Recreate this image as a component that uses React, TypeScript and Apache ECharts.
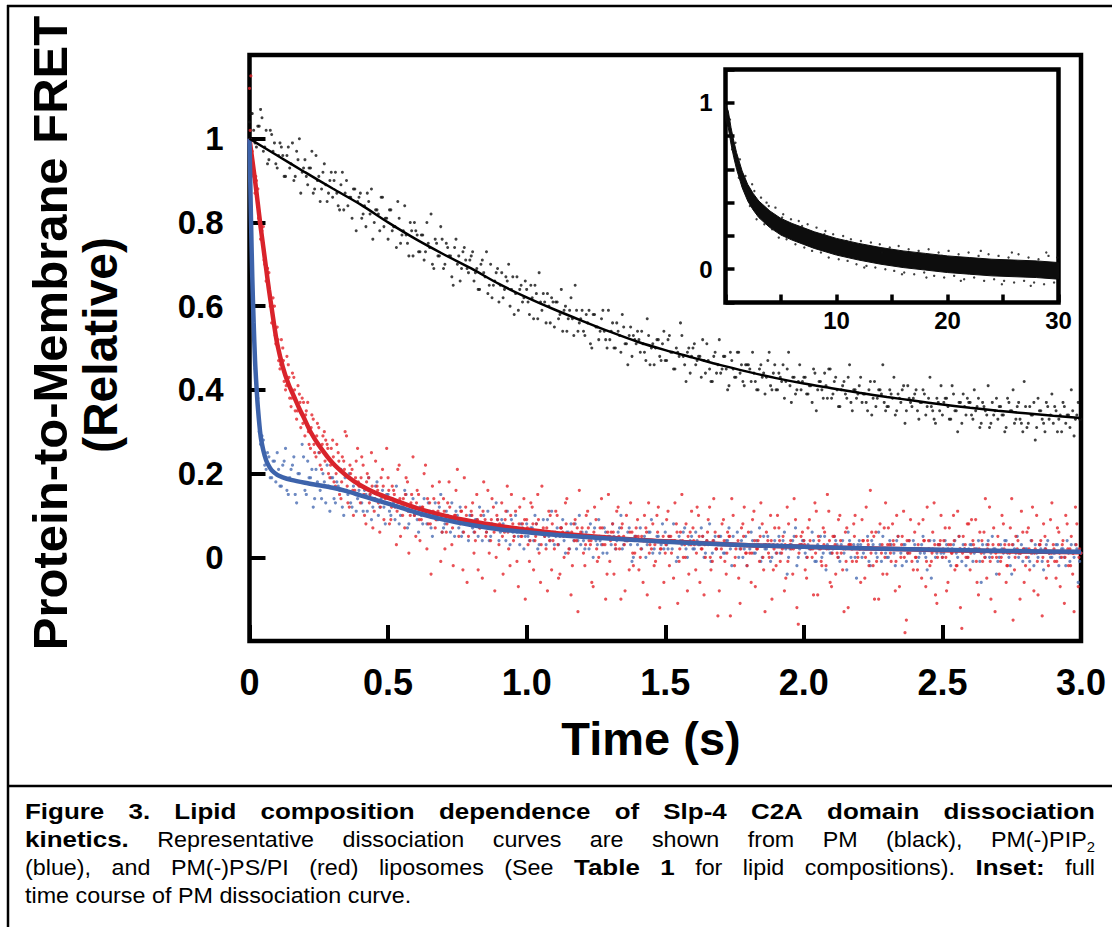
import React, { useEffect, useRef } from 'react';
import * as echarts from 'echarts';

const FONT = '"Liberation Sans", Arial, Helvetica, sans-serif';

// Main traces: stopped-flow samples every DT seconds (0 … 3 s)
const DT = 0.01;

// PM (black) – relative FRET, samples at t = i*DT
const BLACK_Y = [
  1.04, 1.06, 0.99, 1.03, 1.07, 0.97, 1.02, 0.95, 1.01, 0.99,
  0.93, 0.99, 0.96, 0.91, 0.98, 0.94, 0.90, 0.97, 1.00, 0.92,
  0.95, 0.89, 0.93, 0.87, 0.96, 0.91, 0.88, 0.94, 0.85, 0.90,
  0.86, 0.92, 0.84, 0.89, 0.83, 0.90, 0.86, 0.81, 0.88, 0.85,
  0.87, 0.82, 0.79, 0.85, 0.88, 0.80, 0.83, 0.78, 0.86, 0.81,
  0.76, 0.83, 0.79, 0.74, 0.81, 0.77, 0.84, 0.75, 0.80, 0.72,
  0.78, 0.73, 0.77, 0.71, 0.80, 0.74, 0.70, 0.76, 0.72, 0.79,
  0.69, 0.75, 0.72, 0.67, 0.74, 0.70, 0.66, 0.73, 0.71, 0.68,
  0.72, 0.66, 0.69, 0.64, 0.71, 0.67, 0.63, 0.70, 0.65, 0.68,
  0.61, 0.68, 0.64, 0.66, 0.60, 0.67, 0.63, 0.59, 0.65, 0.62,
  0.64, 0.58, 0.62, 0.65, 0.57, 0.61, 0.63, 0.56, 0.60, 0.62,
  0.55, 0.61, 0.58, 0.54, 0.60, 0.57, 0.62, 0.53, 0.59, 0.56,
  0.59, 0.53, 0.56, 0.51, 0.58, 0.55, 0.52, 0.57, 0.54, 0.50,
  0.52, 0.56, 0.50, 0.54, 0.49, 0.55, 0.51, 0.53, 0.48, 0.52,
  0.54, 0.49, 0.51, 0.47, 0.53, 0.50, 0.46, 0.52, 0.48, 0.51,
  0.47, 0.52, 0.49, 0.45, 0.50, 0.48, 0.53, 0.46, 0.49, 0.44,
  0.50, 0.46, 0.48, 0.43, 0.47, 0.51, 0.45, 0.42, 0.49, 0.46,
  0.44, 0.48, 0.45, 0.41, 0.47, 0.43, 0.49, 0.44, 0.42, 0.46,
  0.46, 0.42, 0.44, 0.40, 0.45, 0.43, 0.39, 0.47, 0.41, 0.44,
  0.40, 0.44, 0.42, 0.38, 0.45, 0.41, 0.43, 0.39, 0.42, 0.40,
  0.43, 0.39, 0.41, 0.37, 0.44, 0.40, 0.42, 0.38, 0.41, 0.45,
  0.38, 0.42, 0.40, 0.36, 0.41, 0.39, 0.43, 0.37, 0.40, 0.38,
  0.41, 0.37, 0.39, 0.35, 0.42, 0.38, 0.36, 0.40, 0.39, 0.37,
  0.36, 0.40, 0.38, 0.34, 0.39, 0.37, 0.41, 0.35, 0.38, 0.36,
  0.39, 0.35, 0.37, 0.40, 0.34, 0.38, 0.36, 0.33, 0.38, 0.35,
  0.34, 0.38, 0.36, 0.33, 0.39, 0.35, 0.37, 0.32, 0.36, 0.38,
  0.37, 0.33, 0.35, 0.38, 0.32, 0.36, 0.34, 0.31, 0.37, 0.35,
  0.33, 0.36, 0.34, 0.31, 0.37, 0.35, 0.32, 0.36, 0.33, 0.30,
  0.36, 0.32, 0.34, 0.37, 0.31, 0.35, 0.33, 0.30, 0.36, 0.34,
  0.32, 0.35, 0.33, 0.30, 0.36, 0.34, 0.31, 0.35, 0.33, 0.37,
  0.33,
];

// PM (black), samples at t = i*DT + DT/2
const BLACK_Y_B = [
  1.06, 1.02, 0.98, 1.03, 1.05, 0.98, 0.94, 1.02, 0.97, 0.94,
  0.96, 0.98, 0.91, 0.96, 0.93, 0.99, 0.91, 0.95, 0.87, 0.93,
  0.91, 0.93, 0.97, 0.88, 0.90, 0.85, 0.92, 0.89, 0.87, 0.92,
  0.90, 0.87, 0.83, 0.92, 0.87, 0.84, 0.86, 0.88, 0.78, 0.86,
  0.81, 0.84, 0.87, 0.82, 0.76, 0.83, 0.82, 0.86, 0.79, 0.81,
  0.83, 0.78, 0.79, 0.85, 0.75, 0.78, 0.77, 0.72, 0.78, 0.80,
  0.77, 0.73, 0.77, 0.73, 0.75, 0.82, 0.69, 0.75, 0.72, 0.76,
  0.70, 0.74, 0.72, 0.65, 0.76, 0.72, 0.69, 0.74, 0.69, 0.71,
  0.73, 0.68, 0.64, 0.70, 0.68, 0.73, 0.65, 0.62, 0.66, 0.69,
  0.65, 0.62, 0.67, 0.70, 0.64, 0.58, 0.67, 0.64, 0.61, 0.66,
  0.61, 0.65, 0.57, 0.63, 0.68, 0.59, 0.61, 0.63, 0.56, 0.61,
  0.61, 0.57, 0.64, 0.59, 0.54, 0.59, 0.57, 0.65, 0.54, 0.57,
  0.54, 0.58, 0.59, 0.50, 0.58, 0.55, 0.54, 0.59, 0.52, 0.59,
  0.54, 0.50, 0.56, 0.53, 0.58, 0.51, 0.46, 0.55, 0.53, 0.51,
  0.52, 0.54, 0.49, 0.57, 0.46, 0.51, 0.50, 0.52, 0.47, 0.54,
  0.47, 0.53, 0.49, 0.45, 0.49, 0.56, 0.48, 0.42, 0.50, 0.48,
  0.51, 0.47, 0.48, 0.52, 0.44, 0.47, 0.42, 0.48, 0.44, 0.52,
  0.45, 0.48, 0.40, 0.49, 0.45, 0.43, 0.49, 0.46, 0.41, 0.46,
  0.45, 0.49, 0.42, 0.40, 0.46, 0.44, 0.43, 0.49, 0.40, 0.46,
  0.40, 0.43, 0.46, 0.42, 0.49, 0.37, 0.43, 0.40, 0.46, 0.42,
  0.43, 0.39, 0.41, 0.45, 0.35, 0.42, 0.40, 0.44, 0.38, 0.45,
  0.39, 0.43, 0.36, 0.40, 0.42, 0.38, 0.46, 0.35, 0.40, 0.39,
  0.43, 0.39, 0.37, 0.40, 0.34, 0.42, 0.38, 0.40, 0.46, 0.35,
  0.36, 0.39, 0.43, 0.35, 0.38, 0.40, 0.32, 0.41, 0.37, 0.38,
  0.40, 0.33, 0.37, 0.39, 0.36, 0.43, 0.35, 0.32, 0.37, 0.41,
  0.37, 0.38, 0.33, 0.41, 0.35, 0.30, 0.37, 0.39, 0.34, 0.37,
  0.34, 0.40, 0.36, 0.31, 0.37, 0.35, 0.41, 0.32, 0.34, 0.38,
  0.36, 0.34, 0.30, 0.38, 0.35, 0.40, 0.33, 0.37, 0.32, 0.42,
  0.31, 0.36, 0.34, 0.28, 0.38, 0.35, 0.32, 0.37, 0.33, 0.39,
  0.36, 0.30, 0.34, 0.37, 0.32, 0.34, 0.40, 0.29, 0.34, 0.33,
];

// PM(-)PIP2 (blue), samples at t = i*DT
const BLUE_Y = [
  0.98, 0.70, 0.45, 0.38, 0.27, 0.28, 0.21, 0.24, 0.19, 0.23,
  0.25, 0.17, 0.22, 0.26, 0.15, 0.21, 0.24, 0.13, 0.20, 0.27,
  0.16, 0.23, 0.19, 0.12, 0.21, 0.25, 0.14, 0.18, 0.22, 0.11,
  0.19, 0.13, 0.17, 0.21, 0.10, 0.16, 0.20, 0.12, 0.18, 0.14,
  0.17, 0.11, 0.15, 0.19, 0.09, 0.14, 0.18, 0.12, 0.16, 0.08,
  0.15, 0.10, 0.13, 0.17, 0.08, 0.12, 0.16, 0.07, 0.11, 0.14,
  0.12, 0.06, 0.10, 0.14, 0.08, 0.11, 0.05, 0.13, 0.09, 0.15,
  0.07, 0.11, 0.09, 0.13, 0.05, 0.10, 0.12, 0.06, 0.08, 0.04,
  0.10, 0.06, 0.09, 0.12, 0.04, 0.08, 0.11, 0.05, 0.07, 0.13,
  0.04, 0.09, 0.07, 0.11, 0.03, 0.06, 0.10, 0.05, 0.08, 0.02,
  0.08, 0.04, 0.07, 0.10, 0.02, 0.06, 0.09, 0.03, 0.05, 0.11,
  0.03, 0.07, 0.05, 0.09, 0.01, 0.06, 0.08, 0.04, 0.02, 0.10,
  0.06, 0.02, 0.05, 0.08, 0.00, 0.04, 0.09, 0.03, 0.07, 0.01,
  0.05, 0.08, 0.02, 0.06, 0.10, 0.03, 0.04, 0.07, -0.01, 0.05,
  0.03, 0.07, 0.04, 0.00, 0.06, 0.09, 0.02, 0.05, 0.01, 0.08,
  0.06, 0.02, 0.04, 0.08, -0.01, 0.05, 0.03, 0.07, 0.00, 0.04,
  0.02, 0.06, 0.03, 0.07, 0.00, 0.04, 0.08, 0.01, 0.05, 0.03,
  0.05, 0.01, 0.04, 0.07, -0.02, 0.03, 0.06, 0.02, 0.00, 0.05,
  0.03, 0.06, 0.01, 0.04, 0.07, 0.00, 0.02, 0.05, -0.01, 0.03,
  0.01, 0.05, 0.03, 0.06, -0.04, 0.02, 0.04, 0.07, 0.00, 0.03,
  0.04, 0.00, 0.02, 0.06, -0.01, 0.03, 0.05, 0.01, -0.03, 0.02,
  0.01, 0.05, 0.03, -0.01, 0.04, 0.02, 0.06, 0.00, 0.03, -0.05,
  0.04, 0.00, 0.02, 0.05, -0.02, 0.03, 0.01, 0.06, -0.01, 0.02,
  0.00, 0.04, 0.02, -0.02, 0.05, 0.01, 0.03, -0.01, 0.04, 0.02,
  0.03, -0.01, 0.01, 0.05, 0.00, 0.02, -0.05, 0.04, 0.01, 0.03,
  0.00, 0.04, 0.02, -0.02, 0.03, 0.01, 0.05, -0.01, 0.02, 0.00,
  0.03, -0.01, 0.02, 0.04, -0.06, 0.01, 0.03, 0.00, 0.05, 0.02,
  -0.01, 0.03, 0.01, 0.04, 0.00, -0.04, 0.02, 0.05, 0.01, -0.01,
  0.02, 0.00, 0.04, -0.02, 0.01, 0.03, -0.01, 0.02, 0.04, 0.00,
  0.01, 0.03, -0.02, 0.02, 0.00, 0.04, -0.01, 0.01, 0.03, -0.06,
  0.01,
];

// PM(-)PIP2 (blue), samples at t = i*DT + DT/2
const BLUE_Y_B = [
  0.84, 0.55, 0.43, 0.30, 0.29, 0.22, 0.25, 0.19, 0.23, 0.18,
  0.21, 0.17, 0.23, 0.16, 0.19, 0.22, 0.15, 0.20, 0.18, 0.24,
  0.15, 0.19, 0.21, 0.14, 0.18, 0.16, 0.20, 0.13, 0.17, 0.19,
  0.14, 0.18, 0.16, 0.12, 0.19, 0.15, 0.13, 0.17, 0.11, 0.16,
  0.13, 0.16, 0.11, 0.15, 0.12, 0.17, 0.10, 0.14, 0.12, 0.15,
  0.11, 0.14, 0.09, 0.13, 0.10, 0.12, 0.15, 0.08, 0.11, 0.10,
  0.09, 0.12, 0.08, 0.11, 0.13, 0.07, 0.10, 0.09, 0.12, 0.06,
  0.08, 0.10, 0.06, 0.09, 0.11, 0.07, 0.05, 0.09, 0.08, 0.10,
  0.07, 0.09, 0.05, 0.08, 0.10, 0.06, 0.04, 0.08, 0.07, 0.09,
  0.06, 0.08, 0.04, 0.07, 0.09, 0.05, 0.06, 0.03, 0.07, 0.05,
  0.05, 0.07, 0.04, 0.08, 0.03, 0.06, 0.05, 0.09, 0.04, 0.06,
  0.05, 0.03, 0.07, 0.04, 0.06, 0.02, 0.05, 0.08, 0.04, 0.03,
  0.04, 0.06, 0.02, 0.05, 0.07, 0.03, 0.04, 0.01, 0.06, 0.05,
  0.03, 0.05, 0.04, 0.07, 0.02, 0.04, 0.06, 0.03, 0.00, 0.05,
  0.04, 0.02, 0.05, 0.03, 0.06, 0.01, 0.04, 0.05, 0.03, 0.02,
  0.03, 0.05, 0.02, 0.04, 0.00, 0.04, 0.06, 0.02, 0.03, 0.05,
  0.02, 0.04, 0.03, 0.05, 0.01, 0.03, -0.01, 0.04, 0.02, 0.05,
  0.03, 0.01, 0.04, 0.02, 0.05, 0.03, 0.00, 0.04, 0.02, -0.02,
  0.02, 0.04, 0.01, 0.03, -0.01, 0.05, 0.02, 0.03, 0.00, 0.04,
  0.03, 0.01, 0.04, 0.02, 0.00, 0.03, 0.05, -0.02, 0.02, 0.04,
  0.01, 0.03, 0.02, 0.04, -0.01, 0.02, 0.00, 0.05, 0.03, 0.01,
  0.02, 0.04, 0.00, 0.03, 0.01, -0.03, 0.04, 0.02, 0.00, 0.03,
  0.03, 0.01, 0.02, -0.01, 0.04, 0.02, 0.00, 0.03, 0.05, 0.01,
  0.00, 0.03, 0.01, 0.04, 0.02, -0.02, 0.03, 0.01, 0.02, 0.04,
  0.02, 0.00, 0.03, 0.01, -0.03, 0.04, 0.02, 0.00, 0.03, 0.01,
  0.01, 0.03, -0.01, 0.02, 0.04, 0.00, 0.02, 0.03, -0.02, 0.02,
  0.03, 0.01, 0.02, -0.01, 0.03, 0.00, 0.04, 0.01, 0.02, -0.04,
  0.00, 0.02, 0.04, 0.01, -0.02, 0.03, 0.01, 0.00, 0.03, 0.02,
  0.02, -0.01, 0.01, 0.03, 0.00, 0.02, -0.03, 0.03, 0.01, 0.00,
  0.01, 0.03, 0.00, 0.02, -0.02, 0.01, 0.03, 0.00, 0.02, -0.01,
];

// PM(-)PS/PI (red), samples at t = i*DT
const RED_Y_A = [
  1.12, 0.97, 0.87, 0.88, 0.76, 0.79, 0.66, 0.68, 0.56, 0.60,
  0.55, 0.45, 0.50, 0.40, 0.46, 0.36, 0.43, 0.33, 0.39, 0.38,
  0.29, 0.37, 0.26, 0.33, 0.24, 0.31, 0.21, 0.30, 0.27, 0.19,
  0.28, 0.17, 0.25, 0.14, 0.23, 0.29, 0.12, 0.21, 0.16, 0.26,
  0.13, 0.22, 0.08, 0.19, 0.25, 0.11, 0.17, 0.06, 0.21, 0.14,
  0.19, 0.09, 0.16, 0.03, 0.22, 0.12, 0.07, 0.18, 0.10, 0.24,
  0.05, 0.15, 0.09, 0.20, 0.02, 0.13, 0.17, 0.07, 0.11, -0.01,
  0.14, 0.06, 0.18, 0.03, 0.10, 0.21, 0.08, -0.03, 0.12, 0.05,
  0.11, 0.01, 0.15, 0.07, -0.05, 0.09, 0.16, 0.04, 0.12, 0.00,
  0.03, 0.13, 0.06, 0.17, -0.02, 0.08, 0.11, -0.07, 0.05, 0.14,
  0.09, -0.01, 0.12, 0.04, 0.15, -0.06, 0.07, 0.02, 0.11, -0.03,
  0.02, 0.10, -0.04, 0.06, 0.13, 0.01, -0.09, 0.08, 0.04, 0.16,
  0.07, -0.02, 0.11, 0.03, -0.07, 0.09, 0.00, 0.14, 0.05, -0.04,
  -0.01, 0.08, 0.03, 0.12, -0.10, 0.05, 0.10, -0.03, 0.06, 0.01,
  0.09, 0.00, -0.06, 0.07, 0.13, 0.02, -0.02, 0.10, -0.12, 0.04,
  0.01, 0.11, 0.05, -0.05, 0.08, -0.01, 0.15, 0.03, -0.08, 0.06,
  0.07, -0.03, 0.10, 0.02, -0.09, 0.04, 0.12, -0.01, 0.06, -0.14,
  0.00, 0.09, -0.04, 0.05, 0.14, -0.02, 0.03, -0.11, 0.08, 0.01,
  0.06, -0.06, 0.11, 0.02, -0.01, 0.08, -0.13, 0.04, 0.10, -0.03,
  -0.02, 0.07, 0.01, -0.08, 0.12, 0.03, -0.04, 0.09, -0.16, 0.05,
  0.04, -0.05, 0.09, 0.00, 0.13, -0.09, 0.02, 0.07, -0.02, 0.11,
  -0.07, 0.05, 0.01, 0.10, -0.03, 0.06, -0.12, 0.03, 0.08, -0.01,
  0.02, 0.09, -0.05, 0.04, 0.16, -0.02, 0.06, -0.10, 0.01, 0.07,
  -0.04, 0.03, 0.08, -0.08, 0.05, 0.00, 0.11, -0.15, 0.04, -0.01,
  0.06, -0.03, 0.02, 0.09, -0.07, 0.04, -0.01, 0.13, -0.11, 0.03,
  0.00, 0.07, -0.06, 0.03, 0.10, -0.02, 0.05, -0.17, 0.02, 0.08,
  -0.03, 0.04, 0.09, -0.09, 0.01, 0.06, -0.05, 0.12, 0.00, -0.13,
  0.05, -0.01, 0.08, -0.06, 0.03, 0.14, -0.03, 0.02, -0.10, 0.06,
  -0.02, 0.07, 0.01, -0.08, 0.10, 0.03, -0.14, 0.05, -0.01, 0.09,
  0.03, -0.05, 0.06, 0.00, -0.11, 0.08, 0.02, -0.04, 0.12, -0.07,
  0.01,
];

// PM(-)PS/PI (red), samples at t = i*DT + DT/2
const RED_Y_B = [
  1.15, 0.91, 0.90, 0.80, 0.78, 0.70, 0.69, 0.60, 0.62, 0.51,
  0.47, 0.52, 0.42, 0.48, 0.38, 0.44, 0.35, 0.41, 0.31, 0.37,
  0.35, 0.27, 0.34, 0.25, 0.32, 0.22, 0.29, 0.28, 0.20, 0.26,
  0.18, 0.27, 0.15, 0.24, 0.30, 0.13, 0.20, 0.10, 0.23, 0.17,
  0.24, 0.10, 0.20, 0.15, 0.07, 0.23, 0.13, 0.19, 0.09, 0.26,
  0.08, 0.17, 0.12, 0.21, 0.05, 0.14, 0.19, 0.01, 0.15, 0.10,
  0.16, 0.04, 0.12, 0.22, 0.08, -0.04, 0.14, 0.10, 0.18, 0.06,
  0.02, 0.13, 0.09, -0.02, 0.16, 0.05, 0.11, 0.19, -0.06, 0.08,
  0.13, 0.04, -0.03, 0.10, 0.18, 0.06, 0.01, 0.14, -0.08, 0.09,
  0.07, -0.04, 0.11, 0.02, 0.15, 0.05, -0.01, 0.12, 0.08, -0.10,
  0.03, 0.13, -0.03, 0.08, 0.01, 0.17, 0.05, -0.08, 0.10, 0.04,
  0.11, -0.05, 0.07, 0.00, 0.14, 0.05, -0.02, 0.09, -0.13, 0.06,
  0.01, 0.10, 0.04, -0.06, 0.12, -0.01, 0.07, 0.03, -0.10, 0.15,
  0.06, -0.04, 0.11, 0.02, 0.08, -0.08, 0.04, 0.13, -0.02, 0.07,
  -0.03, 0.05, 0.10, -0.09, 0.03, 0.08, -0.01, 0.12, 0.02, -0.06,
  0.09, -0.02, 0.04, 0.13, -0.11, 0.06, 0.00, 0.08, -0.04, 0.11,
  0.03, 0.12, -0.06, 0.05, 0.00, 0.09, -0.03, 0.14, 0.02, -0.08,
  0.08, -0.01, 0.06, -0.14, 0.10, 0.02, -0.05, 0.07, 0.12, -0.02,
  0.01, 0.09, -0.07, 0.04, 0.13, -0.03, 0.06, 0.00, -0.10, 0.07,
  0.10, -0.01, 0.05, -0.05, 0.08, 0.02, 0.14, -0.12, 0.03, 0.06,
  -0.03, 0.07, 0.02, -0.09, 0.11, 0.04, -0.02, 0.06, 0.15, -0.06,
  0.05, -0.04, 0.09, 0.01, -0.13, 0.07, 0.03, -0.01, 0.10, 0.00,
  -0.06, 0.04, 0.12, -0.02, 0.06, -0.10, 0.02, 0.08, -0.04, 0.13,
  0.07, -0.01, 0.03, 0.10, -0.07, 0.05, -0.18, 0.01, 0.09, -0.03,
  0.00, 0.08, -0.05, 0.04, 0.12, -0.02, 0.06, -0.09, 0.03, 0.10,
  0.04, -0.08, 0.07, 0.01, -0.03, 0.11, -0.12, 0.05, 0.00, 0.08,
  0.09, 0.02, -0.06, 0.06, -0.01, 0.14, 0.03, -0.10, 0.07, 0.00,
  -0.04, 0.10, 0.03, -0.02, 0.07, -0.15, 0.05, 0.01, 0.11, -0.06,
  0.06, -0.03, 0.12, 0.02, -0.09, 0.04, 0.08, -0.05, 0.01, 0.13,
  -0.01, 0.07, -0.07, 0.04, 0.10, -0.02, 0.05, -0.13, 0.08, 0.02,
];

// PM(-)PS/PI (red), samples at t = i*DT + DT/4
const RED_Y_C = [
  1.02, 0.93, 0.91, 0.81, 0.79, 0.71, 0.69, 0.62, 0.60, 0.53,
  0.52, 0.46, 0.47, 0.41, 0.43, 0.38, 0.40, 0.35, 0.37, 0.32,
  0.34, 0.30, 0.31, 0.27, 0.29, 0.25, 0.27, 0.23, 0.26, 0.22,
  0.24, 0.20, 0.23, 0.18, 0.21, 0.17, 0.22, 0.16, 0.19, 0.18,
  0.19, 0.15, 0.18, 0.13, 0.17, 0.14, 0.16, 0.12, 0.17, 0.13,
  0.16, 0.12, 0.15, 0.11, 0.14, 0.10, 0.15, 0.11, 0.13, 0.12,
  0.13, 0.09, 0.12, 0.10, 0.14, 0.08, 0.11, 0.09, 0.13, 0.10,
  0.11, 0.08, 0.12, 0.07, 0.10, 0.09, 0.11, 0.06, 0.10, 0.08,
  0.10, 0.06, 0.09, 0.07, 0.11, 0.05, 0.08, 0.09, 0.06, 0.10,
  0.08, 0.05, 0.09, 0.06, 0.10, 0.04, 0.07, 0.08, 0.05, 0.09,
  0.07, 0.04, 0.08, 0.05, 0.09, 0.03, 0.06, 0.07, 0.04, 0.08,
  0.06, 0.03, 0.07, 0.05, 0.08, 0.02, 0.06, 0.04, 0.07, 0.05,
  0.05, 0.03, 0.07, 0.04, 0.06, 0.02, 0.05, 0.07, 0.03, 0.06,
  0.04, 0.06, 0.02, 0.05, 0.07, 0.03, 0.04, 0.06, 0.01, 0.05,
  0.05, 0.02, 0.04, 0.06, 0.01, 0.04, 0.03, 0.06, 0.02, 0.05,
  0.03, 0.05, 0.01, 0.04, 0.06, 0.02, 0.04, 0.00, 0.05, 0.03,
  0.04, 0.01, 0.05, 0.02, 0.03, 0.06, 0.00, 0.04, 0.02, 0.05,
  0.02, 0.04, 0.01, 0.05, 0.03, 0.00, 0.04, 0.02, 0.05, 0.01,
  0.03, 0.01, 0.04, 0.02, 0.05, 0.00, 0.03, 0.01, 0.04, 0.02,
  0.01, 0.04, 0.02, 0.03, -0.01, 0.04, 0.02, 0.05, 0.01, 0.03,
  0.03, 0.00, 0.04, 0.02, 0.01, 0.05, -0.01, 0.03, 0.02, 0.04,
  0.01, 0.03, 0.00, 0.04, 0.02, -0.01, 0.03, 0.02, 0.05, 0.01,
  0.02, 0.04, 0.00, 0.03, 0.01, 0.05, -0.01, 0.02, 0.03, 0.00,
  0.03, 0.01, 0.04, -0.01, 0.02, 0.03, 0.00, 0.04, 0.01, 0.02,
  0.00, 0.03, 0.02, 0.04, -0.01, 0.02, 0.01, 0.03, 0.00, 0.04,
  0.02, 0.00, 0.03, 0.01, 0.04, -0.02, 0.02, 0.01, 0.03, 0.00,
  0.01, 0.03, -0.01, 0.02, 0.04, 0.00, 0.02, -0.01, 0.03, 0.01,
  0.03, 0.00, 0.02, -0.02, 0.01, 0.03, 0.00, 0.04, 0.01, 0.02,
  0.00, 0.02, 0.04, 0.01, -0.01, 0.03, 0.00, 0.02, -0.02, 0.01,
  0.02, -0.01, 0.01, 0.03, 0.00, 0.02, -0.02, 0.01, 0.03, 0.00,
];

// Fitted curves
const BLACK_FIT_T = [0, 0.1, 0.2, 0.3, 0.4, 0.5, 0.6, 0.7, 0.8, 0.9, 1.0, 1.1, 1.2, 1.3, 1.4, 1.5, 1.6, 1.7, 1.8, 1.9, 2.0, 2.1, 2.2, 2.3, 2.4, 2.5, 2.6, 2.7, 2.8, 2.9, 3.0];
const BLACK_FIT_Y = [1.0, 0.96, 0.92, 0.881, 0.843, 0.8, 0.76, 0.724, 0.69, 0.653, 0.621, 0.592, 0.565, 0.539, 0.515, 0.495, 0.477, 0.459, 0.443, 0.428, 0.415, 0.404, 0.393, 0.383, 0.374, 0.365, 0.357, 0.35, 0.344, 0.338, 0.333];

const RED_FIT_T = [0, 0.01, 0.02, 0.03, 0.04, 0.05, 0.06, 0.07, 0.08, 0.09, 0.1, 0.12, 0.14, 0.16, 0.18, 0.2, 0.22, 0.25, 0.3, 0.35, 0.4, 0.45, 0.5, 0.6, 0.7, 0.8, 0.9, 1.0, 1.2, 1.4, 1.6, 1.8, 2.0, 2.25, 2.5, 2.75, 3.0];
const RED_FIT_Y = [1.0, 0.95, 0.9, 0.845, 0.79, 0.74, 0.69, 0.64, 0.595, 0.55, 0.51, 0.455, 0.415, 0.385, 0.355, 0.328, 0.3, 0.268, 0.225, 0.195, 0.172, 0.155, 0.142, 0.118, 0.1, 0.086, 0.075, 0.066, 0.052, 0.042, 0.035, 0.029, 0.025, 0.021, 0.017, 0.014, 0.012];

const BLUE_FIT_T = [0, 0.005, 0.01, 0.015, 0.02, 0.025, 0.03, 0.04, 0.05, 0.06, 0.07, 0.08, 0.1, 0.12, 0.15, 0.2, 0.25, 0.3, 0.35, 0.4, 0.45, 0.5, 0.6, 0.7, 0.8, 0.9, 1.0, 1.2, 1.4, 1.6, 1.8, 2.0, 2.25, 2.5, 2.75, 3.0];
const BLUE_FIT_Y = [1.0, 0.82, 0.67, 0.56, 0.47, 0.41, 0.36, 0.29, 0.255, 0.232, 0.218, 0.208, 0.197, 0.191, 0.185, 0.178, 0.172, 0.166, 0.158, 0.148, 0.138, 0.128, 0.107, 0.09, 0.077, 0.067, 0.06, 0.049, 0.041, 0.034, 0.029, 0.025, 0.021, 0.018, 0.015, 0.013];

// Inset: full PM time course (0 … 30 s), dense band of points
const INSET_T = [0, 0.25, 0.5, 0.75, 1, 1.5, 2, 2.5, 3, 4, 5, 6, 7, 8, 10, 12, 14, 16, 18, 20, 22, 24, 26, 28, 30];
const INSET_LOW = [0.9, 0.85, 0.75, 0.67, 0.6, 0.49, 0.41, 0.355, 0.31, 0.25, 0.205, 0.175, 0.15, 0.125, 0.085, 0.055, 0.03, 0.01, -0.005, -0.02, -0.03, -0.04, -0.045, -0.05, -0.06];
const INSET_HIGH = [0.99, 0.95, 0.85, 0.77, 0.7, 0.59, 0.51, 0.455, 0.41, 0.35, 0.305, 0.275, 0.25, 0.225, 0.185, 0.155, 0.13, 0.11, 0.095, 0.08, 0.07, 0.06, 0.055, 0.05, 0.04];
const INSET_DOT_T = [0.4, 0.6, 0.9, 1.2, 1.3, 1.8, 2.2, 2.4, 2.8, 3.2, 3.5, 3.7, 4.2, 4.5, 4.8, 5.2, 5.5, 5.9, 6.3, 6.6, 7.1, 7.4, 7.8, 8.2, 8.6, 9.0, 9.3, 9.7, 10.2, 10.6, 11.0, 11.3, 11.8, 12.2, 12.7, 13.1, 13.5, 13.9, 14.4, 14.8, 15.2, 15.6, 16.1, 16.5, 17.0, 17.4, 17.9, 18.3, 18.8, 19.2, 19.7, 20.1, 20.6, 21.0, 21.5, 21.9, 22.4, 22.8, 23.3, 23.7, 24.2, 24.6, 25.1, 25.5, 26.0, 26.4, 26.9, 27.3, 27.8, 28.2, 28.7, 29.1, 29.6, 29.9, 14.1, 16.8, 19.5, 23.0, 25.8, 28.9, 21.2, 24.9, 27.5, 18.1, 10.9, 8.9, 6.9, 5.1, 3.9, 2.6, 12.5, 15.9];
const INSET_DOT_Y = [0.9, 0.72, 0.76, 0.55, 0.66, 0.56, 0.38, 0.51, 0.3, 0.43, 0.27, 0.4, 0.24, 0.37, 0.19, 0.33, 0.18, 0.3, 0.15, 0.29, 0.13, 0.27, 0.11, 0.25, 0.1, 0.23, 0.07, 0.21, 0.06, 0.2, 0.05, 0.18, 0.03, 0.17, 0.02, 0.16, 0.01, 0.15, 0.0, 0.13, -0.01, 0.14, -0.02, 0.12, -0.03, 0.11, -0.02, 0.12, -0.04, 0.1, -0.05, 0.11, -0.04, 0.09, -0.06, 0.1, -0.05, 0.08, -0.07, 0.09, -0.06, 0.08, -0.07, 0.07, -0.08, 0.09, -0.07, 0.07, -0.08, 0.06, -0.09, 0.08, -0.08, 0.07, 0.1, 0.09, 0.08, 0.11, 0.1, 0.1, -0.07, -0.09, -0.1, -0.05, 0.17, 0.21, 0.26, 0.31, 0.38, 0.47, 0.01, -0.03];

// Caption
type Seg = { t: string; b?: boolean; sub?: boolean };
const CAPTION_LINES: { justify: boolean; segs: Seg[] }[] = [
  { justify: true, segs: [{ t: 'Figure 3. Lipid composition dependence of Slp-4 C2A domain dissociation', b: true }] },
  { justify: true, segs: [{ t: 'kinetics.', b: true }, { t: ' Representative dissociation curves are shown from PM (black), PM(-)PIP' }, { t: '2', sub: true }] },
  { justify: true, segs: [{ t: '(blue), and PM(-)PS/PI (red) liposomes (See ' }, { t: 'Table 1', b: true }, { t: ' for lipid compositions). ' }, { t: 'Inset:', b: true }, { t: ' full' }] },
  { justify: false, segs: [{ t: 'time course of PM dissociation curve.' }] },
];

const CAP_SIZE = 22;
const CAP_SUB = 14;
const CAP_STRETCH = 1.06;
const CAP_STRETCH_BOLD = 1.18;
const CAP_LEFT = 25;
const CAP_RIGHT = 1095;
const CAP_BASE = 819;
const CAP_LH = 28;

function buildCaption(): any[] {
  const canvas = document.createElement('canvas');
  const ctx = canvas.getContext('2d') as CanvasRenderingContext2D;
  const fontOf = (r: Seg) => `${r.b ? 'bold ' : ''}${r.sub ? CAP_SUB : CAP_SIZE}px ${FONT}`;
  const stretchOf = (r: Seg) => (r.b ? CAP_STRETCH_BOLD : CAP_STRETCH);
  const widthOf = (r: Seg) => {
    ctx.font = fontOf(r);
    return ctx.measureText(r.t).width * stretchOf(r);
  };
  const els: any[] = [];
  CAPTION_LINES.forEach((line, li) => {
    const words: Seg[][] = [];
    let cur: Seg[] = [];
    line.segs.forEach((seg) => {
      const parts = seg.t.split(' ');
      parts.forEach((p, pi) => {
        if (pi > 0) {
          if (cur.length) words.push(cur);
          cur = [];
        }
        if (p.length) cur.push({ t: p, b: seg.b, sub: seg.sub });
      });
    });
    if (cur.length) words.push(cur);
    const ww = words.map((w) => w.reduce((s, r) => s + widthOf(r), 0));
    const total = ww.reduce((a, b) => a + b, 0);
    ctx.font = `${CAP_SIZE}px ${FONT}`;
    const space = ctx.measureText(' ').width * CAP_STRETCH;
    const gap = line.justify && words.length > 1 ? (CAP_RIGHT - CAP_LEFT - total) / (words.length - 1) : space;
    const base = CAP_BASE + li * CAP_LH;
    let x = CAP_LEFT;
    words.forEach((w) => {
      w.forEach((r) => {
        const size = r.sub ? CAP_SUB : CAP_SIZE;
        const b = r.sub ? base + 5 : base;
        els.push({
          type: 'text',
          x,
          y: b - 0.3465 * size,
          scaleX: stretchOf(r),
          silent: true,
          style: { text: r.t, font: fontOf(r), fill: '#000', align: 'left', verticalAlign: 'middle' },
        });
        x += widthOf(r);
      });
      x += gap;
    });
  });
  return els;
}

const fmtMainY = (v: number) => {
  const r = Math.round(v * 10) / 10;
  if (r < 0 || r > 1) return '';
  if (r === 0) return '0';
  if (r === 1) return '1';
  return r.toFixed(1);
};

export default function App() {
  const ref = useRef<HTMLDivElement>(null);

  useEffect(() => {
    if (!ref.current) return;
    const chart = echarts.init(ref.current, undefined, { renderer: 'svg' });

    const pairs = (ts: number[], ys: number[]) => ys.map((y, i) => [ts[i], y]);
    const sampled = (ys: number[], offset: number) => ys.map((y, i) => [+(i * DT + offset).toFixed(4), y]);

    const tickStyle = { color: '#000', width: 4 };
    const dot = (name: string, ys: number[], offset: number, color: string, size: number) => ({
      name, type: 'scatter', xAxisIndex: 0, yAxisIndex: 0, symbolSize: size,
      itemStyle: { color }, data: sampled(ys, offset), silent: true,
    });

    const option: any = {
      animation: false,
      backgroundColor: '#fff',
      grid: [
        { left: 249.5, top: 55, width: 831.5, height: 586, show: true, borderColor: '#000', borderWidth: 4.5, backgroundColor: 'transparent' },
        { left: 725.5, top: 69.5, width: 333, height: 233, show: true, borderColor: '#000', borderWidth: 4.5, backgroundColor: '#fff' },
      ],
      xAxis: [
        {
          gridIndex: 0, type: 'value', min: 0, max: 3, interval: 0.5,
          axisLine: { show: false, onZero: false }, splitLine: { show: false },
          axisTick: { show: true, inside: true, length: 16, lineStyle: tickStyle },
          axisLabel: {
            margin: 23, fontSize: 36, fontWeight: 'bold', fontFamily: FONT, color: '#000',
            showMinLabel: true, showMaxLabel: true,
            formatter: (v: number) => (v === 0 ? '0' : v.toFixed(1)),
          },
        },
        {
          gridIndex: 1, type: 'value', min: 0, max: 30, interval: 5,
          axisLine: { show: false, onZero: false }, splitLine: { show: false },
          axisTick: { show: true, inside: true, length: 8, lineStyle: { color: '#000', width: 3.5 } },
          axisLabel: {
            margin: 6, fontSize: 24, fontWeight: 'bold', fontFamily: FONT, color: '#000',
            showMinLabel: true, showMaxLabel: true,
            formatter: (v: number) => (v > 0 && v % 10 === 0 ? String(v) : ''),
          },
        },
      ],
      yAxis: [
        {
          gridIndex: 0, type: 'value', min: -0.2, max: 1.2, interval: 0.2,
          axisLine: { show: false, onZero: false }, splitLine: { show: false },
          axisTick: { show: true, inside: true, length: 16, lineStyle: tickStyle },
          axisLabel: { margin: 26, fontSize: 33, fontWeight: 'bold', fontFamily: FONT, color: '#000', formatter: fmtMainY },
        },
        {
          gridIndex: 1, type: 'value', min: -0.2, max: 1.2, interval: 0.2,
          axisLine: { show: false, onZero: false }, splitLine: { show: false },
          axisTick: { show: true, inside: true, length: 9, lineStyle: { color: '#000', width: 3.5 } },
          axisLabel: {
            margin: 13, fontSize: 24, fontWeight: 'bold', fontFamily: FONT, color: '#000',
            formatter: (v: number) => {
              const r = Math.round(v * 10) / 10;
              return r === 0 ? '0' : r === 1 ? '1' : '';
            },
          },
        },
      ],
      series: [
        dot('PM(-)PIP2', BLUE_Y, 0, '#4a6db3', 3.2),
        dot('PM(-)PIP2 b', BLUE_Y_B, DT / 2, '#4a6db3', 3.2),
        dot('PM(-)PS/PI', RED_Y_A, 0, '#e3262c', 3.2),
        dot('PM(-)PS/PI b', RED_Y_B, DT / 2, '#e3262c', 3.2),
        dot('PM(-)PS/PI c', RED_Y_C, DT / 4, '#e3262c', 3.2),
        dot('PM', BLACK_Y, 0, '#111', 3),
        dot('PM b', BLACK_Y_B, DT / 2, '#111', 3),
        { name: 'PM(-)PS/PI fit', type: 'line', xAxisIndex: 0, yAxisIndex: 0, showSymbol: false, symbol: 'none', smooth: 0.3, lineStyle: { color: '#d9232b', width: 4.5 }, data: pairs(RED_FIT_T, RED_FIT_Y), silent: true },
        { name: 'PM(-)PIP2 fit', type: 'line', xAxisIndex: 0, yAxisIndex: 0, showSymbol: false, symbol: 'none', smooth: 0.3, lineStyle: { color: '#3d63ab', width: 4.5 }, data: pairs(BLUE_FIT_T, BLUE_FIT_Y), silent: true },
        { name: 'PM fit', type: 'line', xAxisIndex: 0, yAxisIndex: 0, showSymbol: false, symbol: 'none', smooth: 0.3, lineStyle: { color: '#000', width: 2.5 }, data: pairs(BLACK_FIT_T, BLACK_FIT_Y), silent: true },
        {
          name: 'PM full', type: 'custom', xAxisIndex: 1, yAxisIndex: 1, data: [[0, 0]], silent: true, clip: true,
          renderItem: (_p: any, api: any) => {
            const pts: number[][] = INSET_T.map((t, i) => api.coord([t, INSET_HIGH[i]]));
            for (let i = INSET_T.length - 1; i >= 0; i--) pts.push(api.coord([INSET_T[i], INSET_LOW[i]]));
            return { type: 'polygon', shape: { points: pts }, style: { fill: '#0d0d0d', stroke: '#0d0d0d', lineWidth: 1 } };
          },
        },
        { name: 'PM full dots', type: 'scatter', xAxisIndex: 1, yAxisIndex: 1, symbolSize: 2.4, itemStyle: { color: '#111' }, data: pairs(INSET_DOT_T, INSET_DOT_Y), silent: true },
      ],
      graphic: [
        { type: 'line', silent: true, shape: { x1: 8, y1: 5, x2: 8, y2: 927 }, style: { stroke: '#000', lineWidth: 2.5 } },
        { type: 'line', silent: true, shape: { x1: 7, y1: 6, x2: 1112, y2: 6 }, style: { stroke: '#000', lineWidth: 2.5 } },
        { type: 'line', silent: true, shape: { x1: 8, y1: 786, x2: 1112, y2: 786 }, style: { stroke: '#000', lineWidth: 2.5 } },
        { type: 'text', silent: true, x: 651, y: 738, style: { text: 'Time (s)', font: `bold 47px ${FONT}`, fill: '#000', align: 'center', verticalAlign: 'middle' } },
        { type: 'text', silent: true, x: 50, y: 333, rotation: Math.PI / 2, style: { text: 'Protein-to-Membrane FRET', font: `bold 49px ${FONT}`, fill: '#000', align: 'center', verticalAlign: 'middle' } },
        { type: 'text', silent: true, x: 100, y: 345, rotation: Math.PI / 2, style: { text: '(Relative)', font: `bold 48px ${FONT}`, fill: '#000', align: 'center', verticalAlign: 'middle' } },
        ...buildCaption(),
      ],
    };

    chart.setOption(option);
    return () => chart.dispose();
  }, []);

  return (
    <div
      ref={ref}
      style={{ position: 'absolute', left: 0, top: 0, width: 1112, height: 927, background: '#fff' }}
    />
  );
}
